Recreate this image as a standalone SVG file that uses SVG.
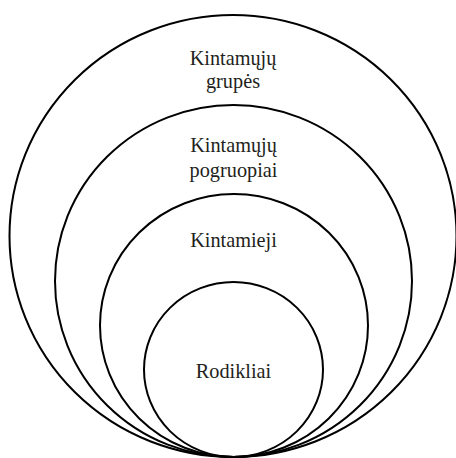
<svg xmlns="http://www.w3.org/2000/svg" width="456" height="458" viewBox="0 0 456 458">
<style>
.c{fill:none;stroke:#000;stroke-width:2}
.t{font-family:"Liberation Serif","Times New Roman",serif;font-size:20.3px;fill:#231f20;text-anchor:middle}
</style>
<rect width="456" height="458" fill="#fff"/>
<g id="n1"><ellipse class="c" cx="233" cy="236" rx="223.5" ry="221"/>
<text class="t" x="233" y="65">Kintamųjų</text><text class="t" x="233" y="88">grupės</text></g>
<g id="n2"><ellipse class="c" cx="233.5" cy="281" rx="178.5" ry="176"/>
<text class="t" x="233.5" y="152">Kintamųjų</text><text class="t" x="233.5" y="177">pogruopiai</text></g>
<g id="n3"><ellipse class="c" cx="234" cy="325.5" rx="134" ry="131.5"/>
<text class="t" x="233.5" y="247">Kintamieji</text></g>
<g id="n4"><ellipse class="c" cx="233.5" cy="369.5" rx="89.5" ry="87.5"/>
<text class="t" x="233.5" y="378">Rodikliai</text></g>
<g id="connectors"></g>
</svg>
